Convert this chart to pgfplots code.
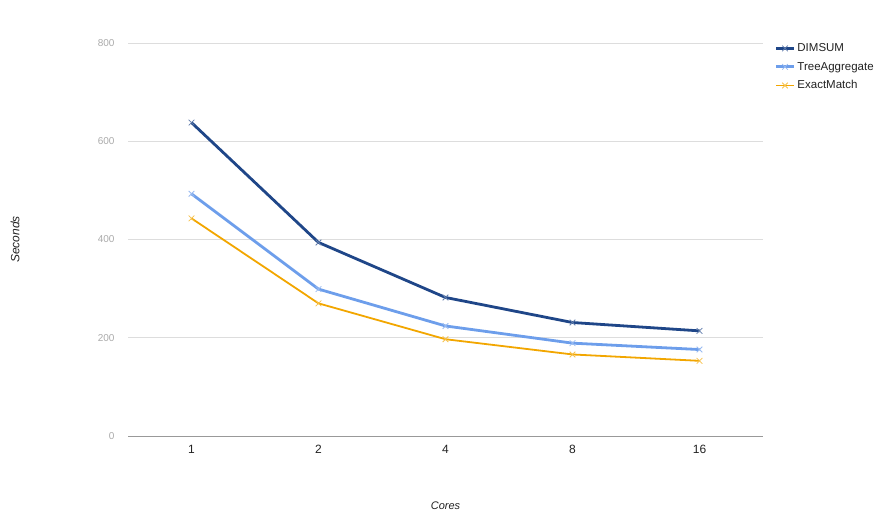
\documentclass[border=0pt]{standalone}
\usepackage{fontspec}
\setmainfont{Liberation Sans}
\usepackage{pgfplots}
\pgfplotsset{compat=1.18}
\definecolor{dimsum}{HTML}{1F4688}
\definecolor{treeagg}{HTML}{6D9EEB}
\definecolor{exact}{HTML}{F2A600}
\definecolor{gridgray}{HTML}{DDDDDD}
\definecolor{axisgray}{HTML}{999999}
\definecolor{tickgray}{HTML}{AAAAAA}
\definecolor{txt}{HTML}{222222}
\begin{document}
\begin{tikzpicture}[x=1pt,y=1pt]
\useasboundingbox (0,0) rectangle (888,519);
\begin{axis}[
  at={(128pt,83pt)}, anchor=south west,
  scale only axis, width=635pt, height=393pt,
  xmin=-0.5, xmax=4.5, ymin=0, ymax=800,
  xtick={0,1,2,3,4}, xticklabels={1,2,4,8,16},
  ytick={0,200,400,600,800},
  axis x line*=bottom, axis y line*=left,
  y axis line style={draw=none},
  x axis line style={draw=axisgray, line width=0.9pt},
  major tick length=0pt,
  ymajorgrids, grid style={gridgray, line width=0.8pt},
  /pgf/number format/assume math mode=true,
  yticklabel style={font=\fontsize{10}{12}\selectfont, text=tickgray, xshift=-10pt},
  xticklabel style={font=\fontsize{12}{14}\selectfont, text=txt, yshift=-6pt},
  xlabel={\itshape Cores}, ylabel={\itshape Seconds},
  xlabel style={at={(rel axis cs:0.5,-0.178)}, anchor=center, font=\fontsize{11}{13}\selectfont, text=txt},
  ylabel style={at={(rel axis cs:-0.178,0.5)}, anchor=center, font=\fontsize{12}{14}\selectfont, text=txt},
  legend style={at={(1.018,1.004)}, anchor=north west, draw=none, fill=none,
    font=\fontsize{11.5}{13}\selectfont, text=txt, row sep=5pt, inner sep=0pt},
  legend cell align=left,
  legend image code/.code={
    \draw[#1, mark=none] (0pt,0pt) -- (18pt,0pt);
    \path[#1, draw=none] plot[only marks] coordinates {(9pt,0pt)};
  },
]
\addplot[dimsum, line width=2.8pt, mark=x, mark size=4pt, mark options={line width=0.8pt, draw=dimsum!70}]
  coordinates {(0,638) (1,394) (2,282) (3,231) (4,214)};
\addplot[treeagg, line width=2.8pt, mark=x, mark size=4pt, mark options={line width=0.8pt, draw=treeagg!70}]
  coordinates {(0,493) (1,299) (2,224) (3,189) (4,176)};
\addplot[exact, line width=1.8pt, mark=x, mark size=4pt, mark options={line width=0.8pt, draw=exact!70}]
  coordinates {(0,443) (1,270) (2,197) (3,166) (4,153)};
\legend{DIMSUM,TreeAggregate,ExactMatch}
\end{axis}
\end{tikzpicture}
\end{document}
